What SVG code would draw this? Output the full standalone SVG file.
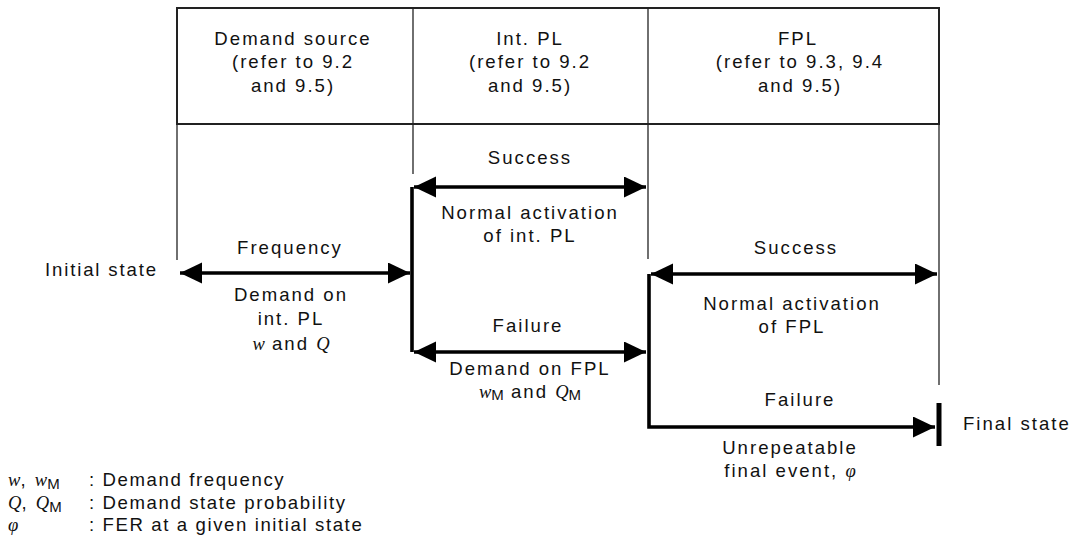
<svg xmlns="http://www.w3.org/2000/svg" width="1076" height="545" viewBox="0 0 1076 545">
  <style>
    .t { font-family: "Liberation Sans", Arial, sans-serif; font-size: 18.6px; letter-spacing: 2px; fill: #111; }
    .c { text-anchor: middle; }
    .v { font-family: "Liberation Serif", "Times New Roman", serif; font-style: italic; letter-spacing: 0; }
    .sub { font-size: 15px; letter-spacing: 0; }
    .grid { stroke: #222; stroke-width: 1.3; fill: none; }
    .frame { stroke: #222; stroke-width: 2; fill: none; }
    .flow { stroke: #000; stroke-width: 3.6; fill: none; }
  </style>
  <defs>
    <marker id="head" markerUnits="userSpaceOnUse" markerWidth="23" markerHeight="22" refX="22" refY="10.5" orient="auto-start-reverse">
      <path d="M0,0 L22,10.5 L0,21 z" fill="#000"/>
    </marker>
  </defs>
  <rect width="1076" height="545" fill="#fff"/>

  <!-- header table and column guides -->
  <g id="table">
    <rect class="frame" x="177" y="8" width="762" height="116"/>
    <line class="grid" x1="177" y1="124" x2="939" y2="124"/>
    <line class="grid" x1="413" y1="8" x2="413" y2="174"/>
    <line class="grid" x1="648" y1="8" x2="648" y2="259"/>
    <line class="grid" x1="177" y1="124" x2="177" y2="260"/>
    <line class="grid" x1="939" y1="124" x2="939" y2="385"/>
  </g>

  <g id="col-demand">
    <text class="t c" x="293" y="45">Demand source</text>
    <text class="t c" x="293" y="68">(refer to 9.2</text>
    <text class="t c" x="293" y="92">and 9.5)</text>
  </g>
  <g id="col-intpl">
    <text class="t c" x="530" y="45">Int. PL</text>
    <text class="t c" x="530" y="68">(refer to 9.2</text>
    <text class="t c" x="530" y="92">and 9.5)</text>
  </g>
  <g id="col-fpl">
    <text class="t c" x="798" y="45">FPL</text>
    <text class="t c" x="800" y="68">(refer to 9.3, 9.4</text>
    <text class="t c" x="800" y="92">and 9.5)</text>
  </g>

  <g id="connectors">
    <line class="flow" x1="180" y1="273" x2="410" y2="273" marker-start="url(#head)" marker-end="url(#head)"/>
    <polyline class="flow" points="412,352 412,187"/>
    <line class="flow" x1="414" y1="187" x2="646" y2="187" marker-start="url(#head)" marker-end="url(#head)"/>
    <line class="flow" x1="414" y1="352" x2="646" y2="352" marker-start="url(#head)" marker-end="url(#head)"/>
    <polyline class="flow" points="649,274 649,427 935,427" marker-end="url(#head)"/>
    <line class="flow" x1="651" y1="274" x2="937" y2="274" marker-start="url(#head)" marker-end="url(#head)"/>
    <line x1="939" y1="403" x2="939" y2="446" stroke="#000" stroke-width="5"/>
  </g>

  <g id="initial-state">
    <text class="t" x="45" y="276" textLength="113">Initial state</text>
  </g>
  <g id="final-state">
    <text class="t" x="963" y="430">Final state</text>
  </g>

  <g id="demand-labels">
    <text class="t c" x="290" y="254">Frequency</text>
    <text class="t c" x="291" y="301">Demand on</text>
    <text class="t c" x="291" y="325">int. PL</text>
    <text class="t c" x="291" y="350"><tspan class="v">w</tspan> and <tspan class="v">Q</tspan></text>
  </g>

  <g id="intpl-labels">
    <text class="t c" x="530" y="164">Success</text>
    <text class="t c" x="530" y="219">Normal activation</text>
    <text class="t c" x="530" y="242">of int. PL</text>
    <text class="t c" x="528" y="332">Failure</text>
    <text class="t c" x="530" y="375">Demand on FPL</text>
    <text class="t c" x="530" y="398"><tspan class="v">w</tspan><tspan class="sub" dy="2">M</tspan><tspan dy="-2"> and </tspan><tspan class="v">Q</tspan><tspan class="sub" dy="2">M</tspan></text>
  </g>

  <g id="fpl-labels">
    <text class="t c" x="796" y="254">Success</text>
    <text class="t c" x="792" y="310">Normal activation</text>
    <text class="t c" x="792" y="333">of FPL</text>
    <text class="t c" x="800" y="406">Failure</text>
    <text class="t c" x="790" y="454">Unrepeatable</text>
    <text class="t c" x="790" y="477">final event, <tspan class="v">φ</tspan></text>
  </g>

  <g id="legend">
    <text class="t" x="8" y="486"><tspan class="v">w</tspan>, <tspan class="v">w</tspan><tspan class="sub" dy="3">M</tspan></text>
    <text class="t" x="8" y="509"><tspan class="v">Q</tspan>, <tspan class="v">Q</tspan><tspan class="sub" dy="3">M</tspan></text>
    <text class="t" x="8" y="531"><tspan class="v">φ</tspan></text>
    <text class="t" x="89" y="486" style="letter-spacing:1.6px">:  Demand frequency</text>
    <text class="t" x="89" y="509" style="letter-spacing:1.6px">:  Demand state probability</text>
    <text class="t" x="89" y="531" style="letter-spacing:1.6px">:  FER at a given initial state</text>
  </g>
</svg>
